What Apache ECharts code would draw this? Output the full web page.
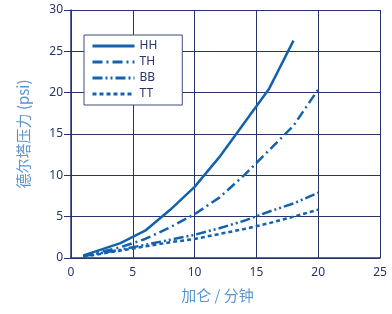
<!DOCTYPE html>
<html>
<head>
<meta charset="utf-8">
<script src="https://cdn.jsdelivr.net/npm/echarts@6/dist/echarts.min.js"></script>
<style>
  html, body { margin: 0; padding: 0; background: #fff; }
  #chart { width: 392px; height: 314px; }
</style>
</head>
<body>
<div id="chart"></div>
<script>
// flow (gal/min) vs delta pressure (psi)
var seriesNames = ['HH', 'TH', 'BB', 'TT'];
var hhFlow = [1, 2, 4, 6, 8, 10, 12, 14, 16, 18];
var hhPsi  = [0.3, 0.8, 1.8, 3.3, 5.8, 8.6, 12.2, 16.3, 20.4, 26.3];
var thFlow = [1, 2, 4, 6, 8, 10, 12, 14, 16, 18, 20];
var thPsi  = [0.2, 0.6, 1.3, 2.3, 3.7, 5.3, 7.3, 10.0, 13.0, 16.0, 20.4];
var bbFlow = [1, 2, 4, 6, 8, 10, 12, 14, 16, 18, 20];
var bbPsi  = [0.2, 0.5, 1.0, 1.6, 2.2, 2.8, 3.6, 4.5, 5.6, 6.6, 7.9];
var ttFlow = [1, 2, 4, 6, 8, 10, 12, 14, 16, 18, 20];
var ttPsi  = [0.2, 0.4, 0.9, 1.4, 1.9, 2.3, 2.9, 3.5, 4.2, 5.0, 5.85];

var lineColor = '#1462ad';
var navy = '#26346a';

function pairs(xs, ys) {
    return xs.map(function (x, i) { return [x, ys[i]]; });
}

function makeLine(name, xs, ys, dash) {
    return {
        name: name,
        type: 'line',
        symbol: 'none',
        smooth: false,
        data: pairs(xs, ys),
        lineStyle: { color: lineColor, width: 2.5, type: dash },
        itemStyle: { color: lineColor }
    };
}

var myChart = echarts.init(document.getElementById('chart'));
var option = {
    animation: false,
    grid: { left: 71, right: 12, top: 10, bottom: 56 },
    legend: {
        orient: 'vertical',
        left: 84,
        top: 35,
        padding: [5, 25, 5, 7],
        itemWidth: 42,
        itemHeight: 12,
        itemGap: 4,
        itemStyle: { opacity: 0, borderWidth: 0 },
        lineStyle: { width: 3 },
        backgroundColor: '#fff',
        borderColor: '#3e4c7a',
        borderWidth: 1,
        data: seriesNames,
        textStyle: { color: navy, fontSize: 12, fontFamily: 'Noto Sans' }
    },
    xAxis: {
        type: 'value',
        min: 0, max: 25, interval: 5,
        name: '加仑 / 分钟',
        nameLocation: 'middle',
        nameGap: 30,
        nameTextStyle: { color: '#5b95d0', fontSize: 15, fontFamily: 'Noto Sans CJK SC', padding: [0, 16, 0, 0] },
        axisLine: { show: true, lineStyle: { color: navy, width: 1.5 } },
        axisTick: { show: false },
        axisLabel: { color: navy, fontSize: 12, margin: 9, fontFamily: 'Noto Sans' },
        splitLine: { show: true, lineStyle: { color: navy, width: 1 } }
    },
    yAxis: {
        type: 'value',
        min: 0, max: 30, interval: 5,
        name: '德尔塔压力 (psi)',
        nameLocation: 'middle',
        nameGap: 40,
        nameTextStyle: { color: '#5b95d0', fontSize: 15, fontFamily: 'Noto Sans CJK SC' },
        axisLine: { show: true, lineStyle: { color: navy, width: 1.5 } },
        axisTick: { show: true, length: 7, lineStyle: { color: navy } },
        axisLabel: { color: navy, fontSize: 12, margin: 8, fontFamily: 'Noto Sans' },
        splitLine: { show: true, lineStyle: { color: navy, width: 1 } }
    },
    series: [
        makeLine('HH', hhFlow, hhPsi, 'solid'),
        makeLine('TH', thFlow, thPsi, [10, 4, 2, 4]),
        makeLine('BB', bbFlow, bbPsi, [10, 3, 2, 3, 2, 3]),
        makeLine('TT', ttFlow, ttPsi, [4, 3])
    ]
};
myChart.setOption(option);
</script>
</body>
</html>
